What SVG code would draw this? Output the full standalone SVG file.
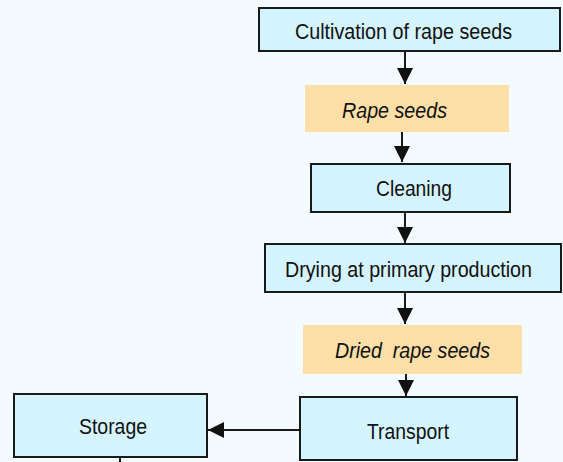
<svg xmlns="http://www.w3.org/2000/svg" width="563" height="462" viewBox="0 0 563 462">
<defs>
<style>
.bg{fill:#F3FBFF}
.proc{fill:#D4F4FF;stroke:#1a1a1a;stroke-width:2}
.prod{fill:#FFDFA8;stroke:none}
.t{font-family:"Liberation Sans",Arial,sans-serif;font-size:22px;fill:#111}
.i{font-style:italic}
.c{stroke:#1a1a1a;stroke-width:2;fill:none;marker-end:url(#ah)}
</style>
<marker id="ah" markerUnits="userSpaceOnUse" markerWidth="16" markerHeight="16" refX="16" refY="8" orient="auto" viewBox="0 0 16 16">
<path d="M0,0 L16,8 L0,16 Z" fill="#111"/>
</marker>
</defs>
<rect class="bg" x="0" y="0" width="563" height="462"/>
<g id="connectors">
<line class="c" x1="405" y1="52" x2="405" y2="84"/>
<line class="c" x1="402" y1="132" x2="402" y2="162"/>
<line class="c" x1="405" y1="213" x2="405" y2="243"/>
<line class="c" x1="405" y1="293" x2="405" y2="324"/>
<line class="c" x1="406" y1="374" x2="406" y2="396"/>
<line class="c" x1="300" y1="430" x2="208" y2="430"/>
<line stroke="#1a1a1a" stroke-width="2" x1="120" y1="457" x2="120" y2="462"/>
</g>
<g id="cultivation">
<rect class="proc" x="259" y="8" width="301" height="43"/>
<text class="t" x="295" y="39" textLength="217" lengthAdjust="spacingAndGlyphs">Cultivation of rape seeds</text>
</g>
<g id="rapeseeds">
<rect class="prod" x="305" y="85" width="204" height="47"/>
<text class="t i" x="342" y="118" textLength="105" lengthAdjust="spacingAndGlyphs">Rape seeds</text>
</g>
<g id="cleaning">
<rect class="proc" x="311" y="164" width="199" height="48"/>
<text class="t" x="376" y="196" textLength="76" lengthAdjust="spacingAndGlyphs">Cleaning</text>
</g>
<g id="drying">
<rect class="proc" x="265" y="244" width="296" height="48"/>
<text class="t" x="285" y="277" textLength="247" lengthAdjust="spacingAndGlyphs">Drying at primary production</text>
</g>
<g id="driedseeds">
<rect class="prod" x="303" y="325" width="219" height="49"/>
<text class="t i" x="335" y="358" textLength="155" lengthAdjust="spacingAndGlyphs" xml:space="preserve">Dried  rape seeds</text>
</g>
<g id="transport">
<rect class="proc" x="300" y="397" width="217" height="63"/>
<text class="t" x="367" y="439" textLength="82" lengthAdjust="spacingAndGlyphs">Transport</text>
</g>
<g id="storage">
<rect class="proc" x="14" y="394" width="193" height="63"/>
<text class="t" x="79" y="434" textLength="68" lengthAdjust="spacingAndGlyphs">Storage</text>
</g>
</svg>
